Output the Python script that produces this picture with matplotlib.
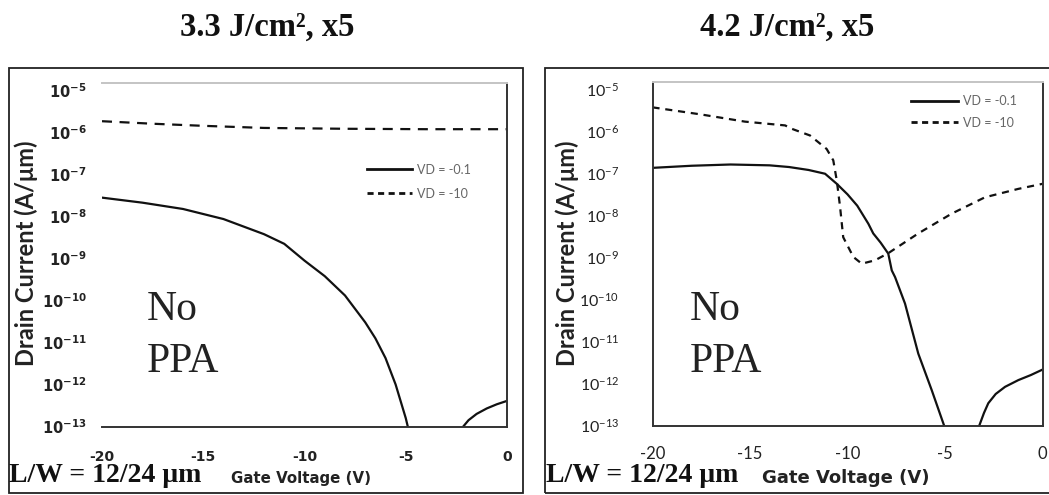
import math
import matplotlib
matplotlib.use("Agg")
import numpy as np
import matplotlib.pyplot as plt
from matplotlib.patches import Rectangle
from matplotlib.ticker import FixedLocator, FuncFormatter
from matplotlib.lines import Line2D

plt.rcParams["axes.unicode_minus"] = False

# ---- data: gate voltage (V) and log10 of drain current (A/um) ----
# 3.3 J/cm2, x5
left_lin_vg_a = [-20, -18, -16, -14, -12, -11, -10, -9, -8, -7, -6.5, -6, -5.5, -5, -4.8]
left_lin_log_a = [-7.55, -7.67, -7.82, -8.06, -8.42, -8.65, -9.05, -9.42, -9.88, -10.52,
                  -10.9, -11.37, -12.0, -12.8, -13.2]
left_lin_vg_b = [-2.3, -2.16, -1.9, -1.5, -1.0, -0.5, 0]
left_lin_log_b = [-13.2, -13.0, -12.85, -12.7, -12.57, -12.47, -12.39]
left_sat_vg = [-20, -17.5, -15, -12, -8, -4, 0]
left_sat_log = [-5.73, -5.79, -5.84, -5.89, -5.91, -5.92, -5.92]

# 4.2 J/cm2, x5
right_lin_vg_a = [-20, -18, -16, -14, -13, -12, -11.15, -10.55, -10, -9.5, -8.93, -8.68,
                  -8.3, -7.91, -7.73, -7.56, -7.05, -6.37, -5.68, -5.04, -4.9]
right_lin_log_a = [-6.87, -6.82, -6.79, -6.81, -6.85, -6.92, -7.01, -7.25, -7.5, -7.77,
                   -8.2, -8.43, -8.65, -8.91, -9.31, -9.47, -10.10, -11.29, -12.16,
                   -13.01, -13.3]
right_lin_vg_b = [-3.35, -3.24, -3.0, -2.78, -2.4, -1.92, -1.24, -0.6, 0]
right_lin_log_b = [-13.25, -13.0, -12.7, -12.47, -12.25, -12.08, -11.92, -11.8, -11.67]
right_sat_vg = [-20, -17.5, -15.26, -13.2, -12.86, -11.92, -11.07, -10.73, -10.55, -10.38,
                -10.22, -9.70, -9.27, -8.59, -7.91, -6.37, -4.66, -2.95, -1.24, 0]
right_sat_log = [-5.43, -5.6, -5.77, -5.86, -5.94, -6.10, -6.42, -6.69, -7.17, -7.80,
                 -8.52, -8.99, -9.15, -9.07, -8.90, -8.43, -7.96, -7.57, -7.37, -7.25]

x_ticks = [-20, -15, -10, -5, 0]
y_ticks = [1e-13, 1e-12, 1e-11, 1e-10, 1e-9, 1e-8, 1e-7, 1e-6, 1e-5]
y_top = 10 ** -4.82
titles = ["3.3 J/cm\u00b2, x5", "4.2 J/cm\u00b2, x5"]
labels = ["VD = -0.1", "VD = -10"]

W, H = 1049, 495
fig = plt.figure(figsize=(W / 100, H / 100), dpi=100)
fig.patch.set_facecolor("white")


def fx(px):
    return px / W


def fy(py):
    return 1 - py / H


def decade(v, pos):
    return r"$\mathregular{10^{%d}}$" % int(round(math.log10(v)))


def current(logs):
    return np.power(10.0, np.asarray(logs))


def setup(ax, family, weight, ysize, xsize, ypad, xpad, left_spine):
    ax.set_yscale("log")
    ax.set_xlim(-20, 0)
    ax.set_ylim(1e-13, y_top)
    ax.yaxis.set_major_locator(FixedLocator(y_ticks))
    ax.yaxis.set_minor_locator(FixedLocator([]))
    ax.yaxis.set_major_formatter(FuncFormatter(decade))
    ax.xaxis.set_major_locator(FixedLocator(x_ticks))
    ax.tick_params(axis="both", which="both", length=0)
    ax.tick_params(axis="y", pad=ypad)
    ax.tick_params(axis="x", pad=xpad)
    for lab in ax.get_yticklabels():
        lab.set_family(family)
        lab.set_weight(weight)
        lab.set_fontsize(ysize)
        lab.set_color("#222222")
    for lab in ax.get_xticklabels():
        lab.set_family(family)
        lab.set_weight(weight)
        lab.set_fontsize(xsize)
        lab.set_color("#222222")
    ax.spines["top"].set_color("#c4c4c4")
    ax.spines["top"].set_linewidth(1.4)
    for side in ["right", "bottom", "left"]:
        ax.spines[side].set_color("#333333")
        ax.spines[side].set_linewidth(1.4)
    ax.spines["left"].set_visible(left_spine)
    ax.set_facecolor("white")


axL = fig.add_axes([fx(102), fy(426.5), fx(507) - fx(102), fy(83) - fy(426.5)])
axR = fig.add_axes([fx(652.5), fy(425.5), fx(1042.5) - fx(652.5), fy(81.7) - fy(425.5)])

lw = 1.6
ink = "#111111"
axL.plot(left_lin_vg_a, current(left_lin_log_a), color=ink, lw=lw)
axL.plot(left_lin_vg_b, current(left_lin_log_b), color=ink, lw=lw)
axL.plot(left_sat_vg, current(left_sat_log), color=ink, lw=lw, dashes=(4.5, 3.4))
setup(axL, "DejaVu Sans", "bold", 10.5, 10, 11, 17, False)

axR.plot(right_lin_vg_a, current(right_lin_log_a), color=ink, lw=lw)
axR.plot(right_lin_vg_b, current(right_lin_log_b), color=ink, lw=lw)
axR.plot(right_sat_vg, current(right_sat_log), color=ink, lw=lw, dashes=(3.2, 2.6))
setup(axR, "Lato", "normal", 11.5, 12, 24, 15, True)

# legends
handles = [Line2D([], [], color=ink, lw=2.0),
           Line2D([], [], color=ink, lw=2.0, dashes=(2.2, 1.6))]
axL.legend(handles, labels, loc="upper left", bbox_to_anchor=(0.655, 0.765),
           frameon=False, handlelength=3.6, handletextpad=0.35, labelspacing=0.95,
           borderpad=0, borderaxespad=0,
           prop={"family": "Lato", "size": 9}, labelcolor="#666666")
axR.legend(handles, labels, loc="upper left", bbox_to_anchor=(0.662, 0.96),
           frameon=False, handlelength=3.8, handletextpad=0.35, labelspacing=0.75,
           borderpad=0, borderaxespad=0,
           prop={"family": "Lato", "size": 9}, labelcolor="#666666")

# outer frames around each panel
for x0, x1 in [(9, 523), (545, 1060)]:
    fig.patches.append(Rectangle((fx(x0), fy(493)), fx(x1) - fx(x0), fy(68) - fy(493),
                                 transform=fig.transFigure, fill=False,
                                 ec="#222222", lw=1.3))

serif = "Liberation Serif"
for cx, t in zip([267, 787], titles):
    fig.text(fx(cx), fy(36), t, ha="center", va="baseline", family=serif,
             weight="bold", fontsize=23.5, color="#111111")

for x0 in [147, 690]:
    fig.text(fx(x0), fy(320), "No", ha="left", va="baseline", family=serif,
             fontsize=30, color="#222222")
    fig.text(fx(x0), fy(372), "PPA", ha="left", va="baseline", family=serif,
             fontsize=30, color="#222222")

for x0 in [9, 546]:
    fig.text(fx(x0), fy(482), "L/W = 12/24 \u03bcm", ha="left", va="baseline",
             family=serif, weight="bold", fontsize=20, color="#111111")

fig.text(fx(301), fy(483), "Gate Voltage (V)", ha="center", va="baseline",
         family="DejaVu Sans", weight="bold", fontsize=10.8, color="#222222")
fig.text(fx(846), fy(483), "Gate Voltage (V)", ha="center", va="baseline",
         family="DejaVu Sans", weight="bold", fontsize=13, color="#222222")

for cx in [26, 567]:
    fig.text(fx(cx), fy(253), "Drain Current (A/\u03bcm)", ha="center", va="center",
             rotation=90, family="Lato", weight="bold", fontsize=17, color="#222222")

fig.savefig("out.png", dpi=100, facecolor="white")
